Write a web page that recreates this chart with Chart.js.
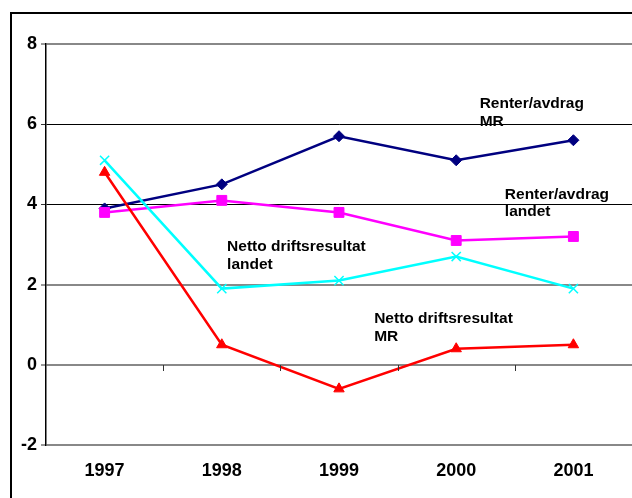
<!DOCTYPE html>
<html>
<head>
<meta charset="utf-8">
<script src="https://cdn.jsdelivr.net/npm/chart.js@4"></script>
<style>
html,body{margin:0;padding:0;background:#fff;overflow:hidden;}
canvas{display:block;}
</style>
</head>
<body>
<canvas id="c" width="640" height="498"></canvas>
<script>
const years = ['1997', '1998', '1999', '2000', '2001'];
const renterMR = [3.9, 4.5, 5.7, 5.1, 5.6];
const renterLandet = [3.8, 4.1, 3.8, 3.1, 3.2];
const nettoLandet = [5.1, 1.9, 2.1, 2.7, 1.9];
const nettoMR = [4.8, 0.5, -0.6, 0.4, 0.5];
const yTicks = [-2, 0, 2, 4, 6, 8];
const annotations = [
  { lines: ['Renter/avdrag', 'MR'], x: 3.2, y: 6.4 },
  { lines: ['Renter/avdrag', 'landet'], x: 3.415, y: 4.14 },
  { lines: ['Netto driftsresultat', 'landet'], x: 1.045, y: 2.83 },
  { lines: ['Netto driftsresultat', 'MR'], x: 2.30, y: 1.03 }
];

const FONT = "'Liberation Sans', Arial, sans-serif";

const framePlugin = {
  id: 'frame',
  beforeDraw(chart) {
    const ctx = chart.ctx;
    ctx.save();
    ctx.fillStyle = '#fff';
    ctx.fillRect(0, 0, chart.width, chart.height);
    ctx.strokeStyle = '#000';
    ctx.lineWidth = 2;
    ctx.strokeRect(11, 13, chart.width + 20, chart.height + 20);
    ctx.restore();
  },
  afterDatasetsDraw(chart) {
    const ctx = chart.ctx;
    const xs = chart.scales.x, ys = chart.scales.y;
    ctx.save();
    // category boundary ticks on the zero line
    ctx.strokeStyle = '#333';
    ctx.lineWidth = 1;
    const y0 = Math.round(ys.getPixelForValue(0));
    for (let i = 0; i < years.length - 1; i++) {
      const px = Math.round(xs.getPixelForValue(i + 0.5)) + 0.5;
      ctx.beginPath();
      ctx.moveTo(px, y0);
      ctx.lineTo(px, y0 + 6);
      ctx.stroke();
    }
    // text annotations
    ctx.fillStyle = '#000';
    ctx.font = "bold 15.5px " + FONT;
    ctx.textAlign = 'left';
    ctx.textBaseline = 'alphabetic';
    annotations.forEach(a => {
      const px = xs.getPixelForValue(a.x);
      const py = ys.getPixelForValue(a.y);
      a.lines.forEach((t, k) => ctx.fillText(t, px, py + k * 17.5));
    });
    ctx.restore();
  }
};

function ds(label, data, color, style, radius, bw) {
  return {
    label, data,
    borderColor: color,
    backgroundColor: color,
    borderWidth: 2.5,
    pointStyle: style,
    pointRadius: radius,
    pointHoverRadius: radius,
    pointBorderColor: color,
    pointBackgroundColor: color,
    pointBorderWidth: bw,
    tension: 0,
    clip: false
  };
}

new Chart(document.getElementById('c'), {
  type: 'line',
  data: {
    labels: years,
    datasets: [
      ds('Netto driftsresultat MR', nettoMR, '#FF0000', 'triangle', 6, 1),
      ds('Netto driftsresultat landet', nettoLandet, '#00FFFF', 'crossRot', 6.5, 1.5),
      ds('Renter/avdrag landet', renterLandet, '#FF00FF', 'rect', 7, 1),
      ds('Renter/avdrag MR', renterMR, '#000080', 'rectRot', 5.5, 1)
    ]
  },
  options: {
    responsive: false,
    animation: false,
    devicePixelRatio: 1,
    layout: { padding: { left: 0, right: 5, top: 44, bottom: 0 } },
    plugins: {
      legend: { display: false },
      tooltip: { enabled: false }
    },
    scales: {
      x: {
        offset: true,
        grid: { display: false, drawTicks: false },
        border: { display: false },
        ticks: {
          padding: 15,
          color: '#000',
          font: { family: FONT, size: 18, weight: 'bold' },
          maxRotation: 0
        },
        afterFit(scale) { scale.height = 53; }
      },
      y: {
        min: -2,
        max: 8,
        afterBuildTicks(scale) { scale.ticks = yTicks.map(v => ({ value: v })); },
        grid: {
          color: c => (c.tick && (c.tick.value === 6 || c.tick.value === 4)) ? '#000' : '#888',
          lineWidth: c => (c.tick && (c.tick.value === 6 || c.tick.value === 4)) ? 1 : 2,
          tickLength: 5,
          tickColor: '#333',
          tickWidth: 1
        },
        border: { color: '#000', width: 1.5 },
        ticks: {
          padding: 4,
          color: '#000',
          font: { family: FONT, size: 18, weight: 'bold' },
          callback: v => String(v)
        },
        afterFit(scale) { scale.width = 46; }
      }
    }
  },
  plugins: [framePlugin]
});
</script>
</body>
</html>
